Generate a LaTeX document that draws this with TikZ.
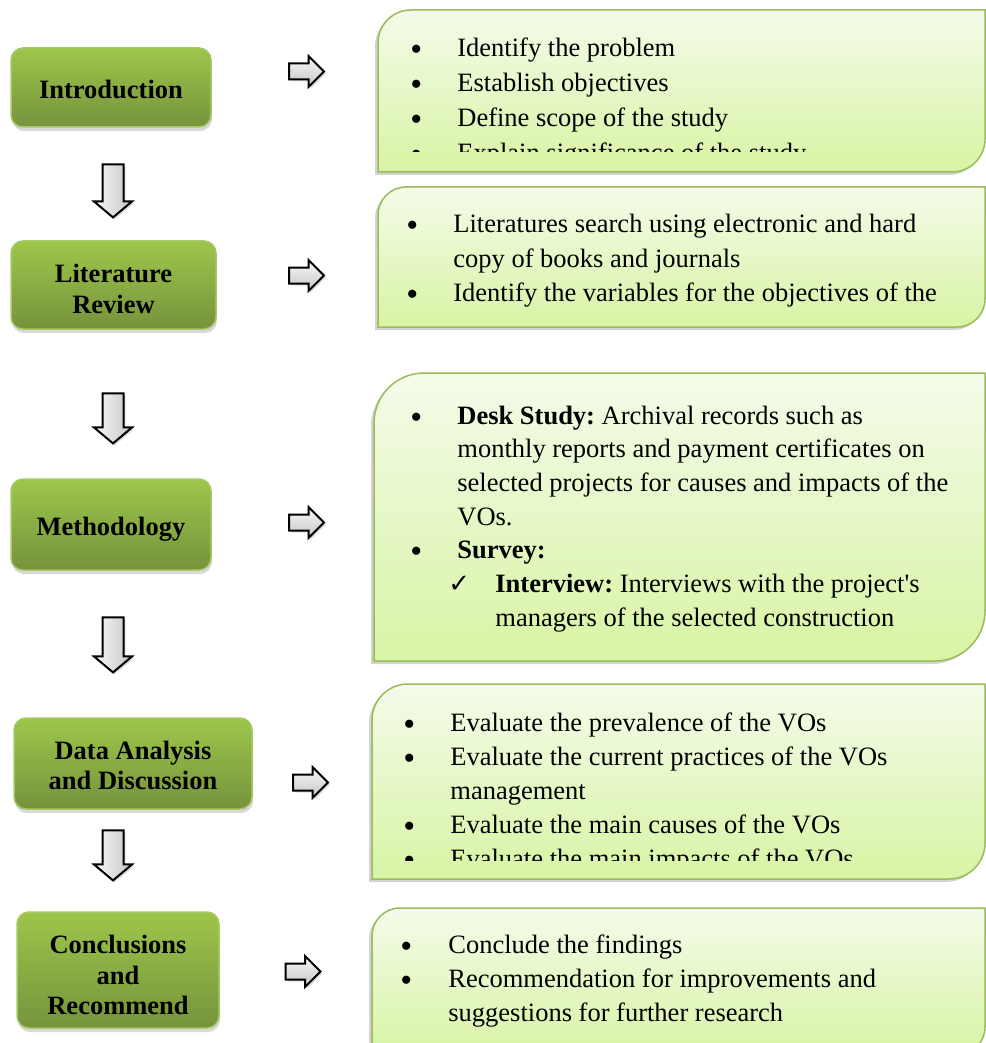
\documentclass[tikz,border=0pt]{standalone}
\usepackage{fontspec}
\setmainfont{Liberation Serif}
\newfontfamily\symfont{DejaVu Sans}
\usepackage{tikz}
\usetikzlibrary{shapes.arrows, shadows}
\usepackage{xcolor}
\frenchspacing

\definecolor{stageTop}{HTML}{9DC64B}
\definecolor{stageBot}{HTML}{76933C}
\definecolor{stageLine}{HTML}{A6C866}
\definecolor{noteTop}{HTML}{F4FBEA}
\definecolor{noteBot}{HTML}{D8F4A4}
\definecolor{noteLine}{HTML}{9BBB59}

\newcommand{\bul}{\raisebox{-2pt}{\fontsize{17}{17}\selectfont\textbullet}}
\newcommand{\tick}{{\symfont\fontsize{13}{13}\selectfont ✓}}

% box with round top-left and bottom-right corners: left, top, right, bottom, radius
\newcommand{\notebox}[5]{%
  \path[note] (#1,#4) -- (#1,{#2+#5})
    .. controls (#1,{#2+0.448*#5}) and ({#1+0.448*#5},#2) .. ({#1+#5},#2)
    -- (#3,#2) -- (#3,{#4-#5})
    .. controls (#3,{#4-0.448*#5}) and ({#3-0.448*#5},#4) .. ({#3-#5},#4)
    -- cycle;}

\begin{document}
\begin{tikzpicture}[x=0.5pt, y=-0.5pt,
  stage/.style={draw=stageLine, line width=0.75pt, rounded corners=6pt,
    top color=stageTop, bottom color=stageBot, inner sep=0pt,
    drop shadow={shadow xshift=0.5pt, shadow yshift=-2pt, opacity=0.3}},
  stagelabel/.style={align=center, inner sep=0pt,
    font=\fontsize{13.25}{15.25}\selectfont\bfseries},
  note/.style={draw=noteLine, line width=0.75pt, top color=noteTop, bottom color=noteBot,
    drop shadow={shadow xshift=-1.5pt, shadow yshift=-1.5pt, opacity=0.35}},
  notetext/.style={anchor=base west, inner sep=0pt, align=left},
  rarrow/.style={single arrow, draw=black, line width=1pt, inner sep=3.5pt,
    top color=gray!5, bottom color=gray!45, minimum height=17.5pt,
    single arrow head extend=3.75pt,
    drop shadow={shadow xshift=1pt, shadow yshift=-1pt, opacity=0.25}},
  darrow/.style={single arrow, draw=black, line width=1pt, inner sep=4.75pt,
    shape border rotate=270, left color=gray!5, right color=gray!45,
    single arrow head extend=4.25pt, single arrow tip angle=100,
    drop shadow={shadow xshift=1pt, shadow yshift=-1pt, opacity=0.25}}
]
\useasboundingbox (0,0) rectangle (985,1043);

% stages
\node[stage, minimum width=100pt, minimum height=39.5pt,
  label={[stagelabel, yshift=-1pt]center:Introduction}] (intro) at (111,87.5) {};
\node[stage, minimum width=102.5pt, minimum height=44pt,
  label={[stagelabel, yshift=-2pt]center:{Literature\\Review}}] (litrev) at (113.5,285) {};
\node[stage, minimum width=100pt, minimum height=45.5pt,
  label={[stagelabel, yshift=-2.5pt]center:Methodology}] (method) at (111,524.5) {};
\node[stage, minimum width=119pt, minimum height=45.5pt,
  label={[stagelabel, yshift=-1pt]center:{Data Analysis\\and Discussion}}] (analysis) at (133,763.5) {};
\node[stage, minimum width=101pt, minimum height=58pt,
  label={[stagelabel, yshift=-2.5pt]center:{Conclusions\\and\\Recommend}}] (concl) at (118,970) {};

% arrows down
\node[darrow, minimum height=26.5pt] (down1) at (113,186.5) {};
\node[darrow, minimum height=25pt] (down2) at (113,414) {};
\node[darrow, minimum height=27.5pt] (down3) at (113,640.5) {};
\node[darrow, minimum height=25pt] (down4) at (113,851) {};

% arrows right
\node[rarrow] (right1) at (302.5,71.5) {};
\node[rarrow] (right2) at (302.5,275.5) {};
\node[rarrow] (right3) at (302.5,522.5) {};
\node[rarrow] (right4) at (306.5,782.5) {};
\node[rarrow] (right5) at (299,971.5) {};

% note boxes
\notebox{378}{10}{985}{172}{33}
\notebox{378}{187}{985}{327}{28}
\notebox{374}{373}{985}{661}{50}
\notebox{372}{684}{985}{879}{36}
\notebox{372}{908}{985}{1055}{28}

\begin{scope}
  \clip (370,0) rectangle (985,152);
  \node[notetext, font=\fontsize{13.25}{17.5}\selectfont] (introtext) at (410,57) {%
    \begin{tabular}[t]{@{}p{23.5pt}@{}l@{}}
    \bul & Identify the problem\\
    \bul & Establish objectives\\
    \bul & Define scope of the study\\
    \bul & Explain significance of the study
    \end{tabular}};
\end{scope}

\node[notetext, font=\fontsize{13.25}{17.25}\selectfont] (litrevtext) at (406,232.5) {%
  \begin{tabular}[t]{@{}p{23.5pt}@{}l@{}}
  \bul & Literatures search using electronic and hard\\
       & copy of books and journals\\
  \bul & Identify the variables for the objectives of the
  \end{tabular}};

\node[notetext, font=\fontsize{13.25}{16.85}\selectfont] (methodtext) at (410,424) {%
  \begin{tabular}[t]{@{}p{23.5pt}@{}l@{}}
  \bul & \textbf{Desk Study:} Archival records such as\\
       & monthly reports and payment certificates on\\
       & selected projects for causes and impacts of the\\
       & VOs.\\
  \bul & \textbf{Survey:}\\
       & \hspace*{-4.5pt}\makebox[23.5pt][l]{\tick}\textbf{Interview:} Interviews with the project\textquotesingle s\\
       & \hspace*{19pt}managers of the selected construction
  \end{tabular}};

\begin{scope}
  \clip (370,684) rectangle (985,860);
  \node[notetext, font=\fontsize{13.25}{17.1}\selectfont] (analysistext) at (403,731) {%
    \begin{tabular}[t]{@{}p{23.5pt}@{}l@{}}
    \bul & Evaluate the prevalence of the VOs\\
    \bul & Evaluate the current practices of the VOs\\
         & management\\
    \bul & Evaluate the main causes of the VOs\\
    \bul & Evaluate the main impacts of the VOs
    \end{tabular}};
\end{scope}

\node[notetext, font=\fontsize{13.25}{17}\selectfont] (concltext) at (400,953) {%
  \begin{tabular}[t]{@{}p{24pt}@{}l@{}}
  \bul & Conclude the findings\\
  \bul & Recommendation for improvements and\\
       & suggestions for further research
  \end{tabular}};
\end{tikzpicture}
\end{document}
